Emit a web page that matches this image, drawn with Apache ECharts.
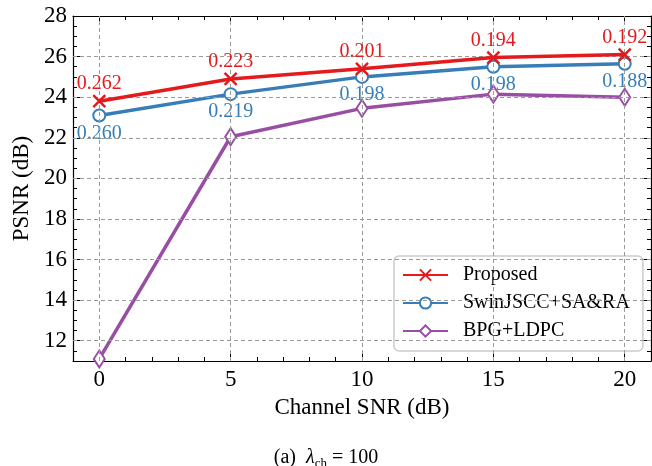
<!DOCTYPE html>
<html>
<head>
<meta charset="utf-8">
<script src="https://cdn.jsdelivr.net/npm/echarts@6/dist/echarts.min.js"></script>
<style>html,body{margin:0;padding:0;background:#fff}#c{width:652px;height:466px}</style>
</head>
<body>
<div id="c"></div>
<script>
const snr = [0, 5, 10, 15, 20];
const proposed = [23.8, 24.9, 25.4, 25.95, 26.1];
const swin = [23.1, 24.15, 25.0, 25.5, 25.65];
const bpg = [11.1, 22.05, 23.45, 24.15, 24.0];
const proposedLabels = ['0.262', '0.223', '0.201', '0.194', '0.192'];
const swinLabels = ['0.260', '0.219', '0.198', '0.198', '0.188'];
const xTicks = [0, 5, 10, 15, 20];
const yTicks = [12, 14, 16, 18, 20, 22, 24, 26, 28];
const names = ['Proposed', 'SwinJSCC+SA&RA', 'BPG+LDPC'];

const FONT = 'Liberation Serif';
const RED = '#e41a1c', BLUE = '#377eb8', PURPLE = '#984ea3';
const XMIN = -1, XMAX = 21, YMIN = 11, YMAX = 28;

function pairs(xs, ys) { return xs.map((x, i) => [x, ys[i]]); }

function xAx(pos, major, withLabels) {
  const a = {
    type: 'value', position: pos, min: XMIN, max: XMAX, interval: 1,
    axisLine: { show: !major, onZero: false, lineStyle: { color: '#000', width: 1.2 } },
    axisTick: { show: true, inside: true, length: major ? 7 : 4, lineStyle: { color: '#000', width: 1 } },
    axisLabel: { show: false },
    splitLine: { show: false }
  };
  if (major) a.axisTick.customValues = xTicks;
  if (withLabels) {
    a.axisLabel = { show: true, customValues: xTicks, fontFamily: FONT, fontSize: 23, color: '#000', margin: 7 };
    a.name = 'Channel SNR (dB)';
    a.nameLocation = 'middle';
    a.nameGap = 35;
    a.nameTextStyle = { fontFamily: FONT, fontSize: 23, color: '#000' };
  }
  return a;
}
function yAx(pos, major, withLabels) {
  const a = {
    type: 'value', position: pos, min: YMIN, max: YMAX, interval: 0.5,
    axisLine: { show: !major, onZero: false, lineStyle: { color: '#000', width: 1.2 } },
    axisTick: { show: true, inside: true, length: major ? 7 : 4, lineStyle: { color: '#000', width: 1 } },
    axisLabel: { show: false },
    splitLine: { show: false }
  };
  if (major) a.axisTick.customValues = yTicks;
  if (withLabels) {
    a.axisLabel = { show: true, customValues: yTicks, fontFamily: FONT, fontSize: 23, color: '#000', margin: 6 };
    a.name = 'PSNR (dB)';
    a.nameLocation = 'middle';
    a.nameGap = 36;
    a.nameTextStyle = { fontFamily: FONT, fontSize: 23, color: '#000' };
  }
  return a;
}

const xMark = 'path://M0,0 L10,10 M10,0 L0,10';

const chart = echarts.init(document.getElementById('c'), null, { renderer: 'canvas' });
chart.setOption({
  animation: false,
  backgroundColor: '#fff',
  textStyle: { fontFamily: FONT, color: '#000' },
  grid: { left: 73, right: 1, top: 16, bottom: 105, containLabel: false },
  xAxis: [xAx('bottom', false, true), xAx('bottom', true, false), xAx('top', false, false), xAx('top', true, false)],
  yAxis: [yAx('left', false, true), yAx('left', true, false), yAx('right', false, false), yAx('right', true, false)],
  title: {
    left: 'center', top: 440,
    text: '{a|(a)  }{l|λ}{s|ch}{a| = 100}',
    textStyle: {
      fontFamily: FONT, fontWeight: 'normal', fontSize: 20,
      rich: {
        a: { fontFamily: FONT, fontWeight: 'normal', fontSize: 20, color: '#000' },
        l: { fontFamily: FONT, fontWeight: 'normal', fontSize: 20, fontStyle: 'italic', color: '#000' },
        s: { fontFamily: FONT, fontWeight: 'normal', fontSize: 13, color: '#000', padding: [12, 0, 0, 0] }
      }
    }
  },
  legend: {
    orient: 'vertical', left: 394, top: 256,
    itemWidth: 45, itemHeight: 14, itemGap: 8,
    padding: [9, 13, 10, 8],
    backgroundColor: 'rgba(255,255,255,0.9)',
    borderColor: '#cccccc', borderWidth: 1.5, borderRadius: 5,
    textStyle: { fontFamily: FONT, fontSize: 20, color: '#000', padding: [0, 0, 0, 10] },
    data: names
  },
  series: [
    {
      type: 'line', name: 'grid', data: [], z: 1, silent: true,
      markLine: {
        silent: true, symbol: 'none', animation: false,
        label: { show: false },
        lineStyle: { color: '#9a9a9a', width: 1, type: [4, 3] },
        emphasis: { disabled: true },
        data: xTicks.map(v => ({ xAxis: v })).concat(yTicks.filter(v => v < YMAX).map(v => ({ yAxis: v })))
      }
    },
    {
      type: 'line', name: names[0], data: pairs(snr, proposed), z: 5,
      color: RED,
      lineStyle: { color: RED, width: 3.5 },
      symbol: xMark, symbolSize: 12,
      itemStyle: { color: RED, borderColor: RED, borderWidth: 2.5 },
      label: {
        show: true, position: 'top', distance: 0,
        formatter: p => proposedLabels[p.dataIndex],
        fontFamily: FONT, fontSize: 20, color: RED
      }
    },
    {
      type: 'line', name: names[1], data: pairs(snr, swin), z: 4,
      color: BLUE,
      lineStyle: { color: BLUE, width: 3.5 },
      symbol: 'emptyCircle', symbolSize: 12,
      itemStyle: { color: BLUE, borderColor: BLUE, borderWidth: 2.5 },
      label: {
        show: true, position: 'bottom', distance: 1,
        formatter: p => swinLabels[p.dataIndex],
        fontFamily: FONT, fontSize: 20, color: BLUE
      }
    },
    {
      type: 'line', name: names[2], data: pairs(snr, bpg), z: 3,
      color: PURPLE,
      lineStyle: { color: PURPLE, width: 3.5 },
      symbol: 'emptyDiamond', symbolSize: [11, 17],
      itemStyle: { color: PURPLE, borderColor: PURPLE, borderWidth: 2.5 }
    }
  ]
});
</script>
</body>
</html>
